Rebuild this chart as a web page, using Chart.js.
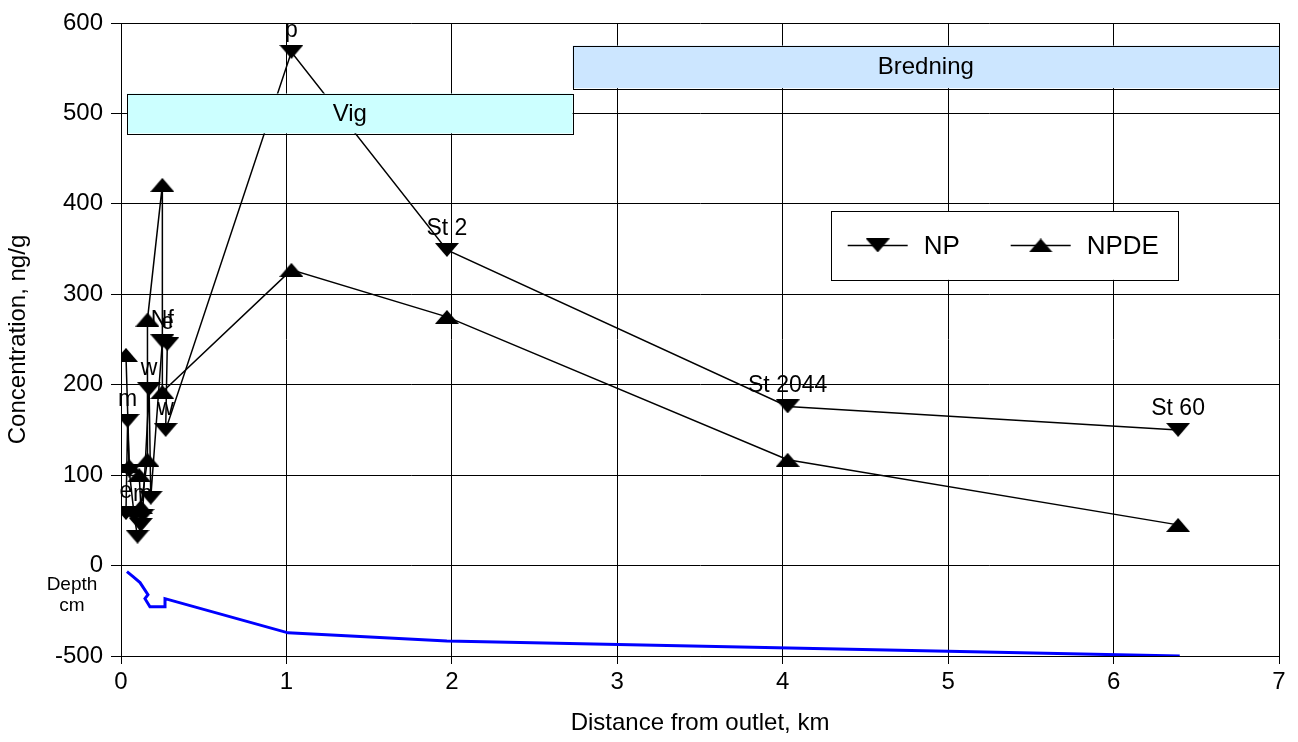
<!DOCTYPE html>
<html>
<head>
<meta charset="utf-8">
<script src="https://cdn.jsdelivr.net/npm/chart.js@4.4.1/dist/chart.umd.min.js"></script>
<style>
  html, body { margin: 0; padding: 0; background: #fff; }
</style>
</head>
<body>
<canvas id="concChart" width="1298" height="742"></canvas>
<script>
// NP (nonylphenol) per sample, distance in km, concentration ng/g
const npDist  = [0.03, 0.04, 0.05, 0.08, 0.10, 0.12, 0.13, 0.17, 0.18, 0.25, 0.28, 0.27, 1.03, 1.97, 4.03, 6.39];
const npConc  = [58, 160, 105, 55, 32, 45, 55, 195, 75, 248, 245, 150, 568, 349, 176, 150];
const npNames = ['e', 'm', '', '', '', '', 'm', 'w', '', 'Nf', 'e', 'w', 'p', 'St 2', 'St 2044', 'St 60'];

// NPDE (nonylphenol diethoxylate)
const npdeDist = [0.03, 0.05, 0.11, 0.12, 0.16, 0.16, 0.25, 0.25, 1.03, 1.97, 4.03, 6.39];
const npdeConc = [233, 110, 100, 65, 117, 272, 421, 192, 327, 275, 117, 45];

// water depth along the transect, cm
const depthDist = [0.036, 0.073, 0.115, 0.163, 0.145, 0.175, 0.266, 0.266, 1.01, 1.97, 4.04, 6.40];
const depthCm   = [-33, -61, -94, -161, -183, -228, -228, -183, -372, -417, -456, -500];

// basin extents
const basinNames  = ['Vig', 'Bredning'];
const basinFrom   = [0.036, 2.73];
const basinTo     = [2.73, 7.0];
const basinLow    = [478, 528];
const basinHigh   = [522, 575];
const basinColors = ['#ccffff', '#cce6ff'];

const xTicks = [0, 1, 2, 3, 4, 5, 6, 7];
const yTicks = [-100, 0, 100, 200, 300, 400, 500, 600];
const yTickText = ['-500', '0', '100', '200', '300', '400', '500', '600'];

const FONT = 'Arial, "Liberation Sans", sans-serif';

function triangleMarker(down) {
    const c = document.createElement('canvas');
    c.width = 24;
    c.height = 14;
    const g = c.getContext('2d');
    g.fillStyle = '#000';
    g.beginPath();
    if (down) {
        g.moveTo(0, 0); g.lineTo(24, 0); g.lineTo(12, 14);
    } else {
        g.moveTo(12, 0); g.lineTo(24, 14); g.lineTo(0, 14);
    }
    g.closePath();
    g.fill();
    return c;
}
const downTri = triangleMarker(true);
const upTri = triangleMarker(false);

const pts = (xs, ys) => xs.map((x, i) => ({ x: x, y: ys[i] }));

// station names above the NP points
const pointNames = {
    id: 'pointNames',
    afterDatasetsDraw(chart) {
        const ctx = chart.ctx;
        const meta = chart.getDatasetMeta(0);
        ctx.save();
        ctx.font = '23px ' + FONT;
        ctx.fillStyle = '#000';
        ctx.textAlign = 'center';
        ctx.textBaseline = 'middle';
        meta.data.forEach((el, i) => {
            if (npNames[i]) ctx.fillText(npNames[i], el.x, el.y - 21);
        });
        ctx.restore();
    }
};

// basin boxes, depth caption and legend
const overlays = {
    id: 'overlays',
    afterDatasetsDraw(chart) {
        const ctx = chart.ctx;
        const xs = chart.scales.x, ys = chart.scales.y;
        ctx.save();
        basinNames.forEach((name, i) => {
            const l = xs.getPixelForValue(basinFrom[i]);
            const r = xs.getPixelForValue(basinTo[i]);
            const t = ys.getPixelForValue(basinHigh[i]);
            const b = ys.getPixelForValue(basinLow[i]);
            ctx.fillStyle = basinColors[i];
            ctx.fillRect(l, t, r - l, b - t);
            ctx.strokeStyle = '#000';
            ctx.lineWidth = 1;
            ctx.strokeRect(Math.round(l) + 0.5, Math.round(t) + 0.5, Math.round(r - l), Math.round(b - t));
            ctx.fillStyle = '#000';
            ctx.font = '24px ' + FONT;
            ctx.textAlign = 'center';
            ctx.textBaseline = 'middle';
            ctx.fillText(name, (l + r) / 2, (t + b) / 2 + 1);
        });

        // depth caption on the left
        const zero = ys.getPixelForValue(0);
        ctx.font = '19px ' + FONT;
        ctx.textAlign = 'center';
        ctx.textBaseline = 'middle';
        ctx.fillText('Depth', 72, zero + 19);
        ctx.fillText('cm', 72, zero + 40);

        // legend box
        const lx = xs.getPixelForValue(4.29), rx = xs.getPixelForValue(6.39);
        const ty = ys.getPixelForValue(392), by = ys.getPixelForValue(316);
        ctx.fillStyle = '#fff';
        ctx.fillRect(lx, ty, rx - lx, by - ty);
        ctx.strokeStyle = '#000';
        ctx.lineWidth = 1;
        ctx.strokeRect(Math.round(lx) + 0.5, Math.round(ty) + 0.5, Math.round(rx - lx), Math.round(by - ty));
        const cy = (ty + by) / 2;
        const items = [['NP', downTri, lx + 17], ['NPDE', upTri, lx + 180]];
        items.forEach(([text, marker, sx]) => {
            ctx.beginPath();
            ctx.moveTo(sx, cy);
            ctx.lineTo(sx + 60, cy);
            ctx.strokeStyle = '#000';
            ctx.lineWidth = 1.5;
            ctx.stroke();
            ctx.drawImage(marker, sx + 30 - marker.width / 2, cy - marker.height / 2);
            ctx.fillStyle = '#000';
            ctx.font = '26px ' + FONT;
            ctx.textAlign = 'left';
            ctx.fillText(text, sx + 76, cy + 1);
        });
        ctx.restore();
    }
};

new Chart(document.getElementById('concChart'), {
    type: 'scatter',
    data: {
        datasets: [{
            label: 'NP',
            data: pts(npDist, npConc),
            showLine: true,
            borderColor: '#000',
            borderWidth: 1.5,
            pointStyle: downTri,
            pointRadius: 8,
            yAxisID: 'y'
        }, {
            label: 'NPDE',
            data: pts(npdeDist, npdeConc),
            showLine: true,
            borderColor: '#000',
            borderWidth: 1.5,
            pointStyle: upTri,
            pointRadius: 8,
            yAxisID: 'y'
        }, {
            label: 'Depth',
            data: pts(depthDist, depthCm),
            showLine: true,
            borderColor: '#0000ff',
            borderWidth: 3,
            pointRadius: 0,
            yAxisID: 'yDepth'
        }]
    },
    options: {
        responsive: false,
        animation: false,
        devicePixelRatio: 1,
        layout: { padding: { top: 23, right: 19, left: 0, bottom: 0 } },
        plugins: {
            legend: { display: false },
            tooltip: { enabled: false }
        },
        scales: {
            x: {
                type: 'linear',
                min: 0,
                max: 7,
                afterFit: s => { s.height = 86; },
                afterBuildTicks: s => { s.ticks = xTicks.map(v => ({ value: v })); },
                ticks: { color: '#000', font: { size: 24, family: FONT }, padding: 4 },
                grid: { color: '#000', lineWidth: 1, tickLength: 8 },
                border: { color: '#000', width: 1 },
                title: {
                    display: true,
                    text: 'Distance from outlet, km',
                    color: '#000',
                    font: { size: 24, family: FONT },
                    padding: { top: 0, bottom: 4 }
                }
            },
            y: {
                min: -100,
                max: 600,
                afterFit: s => { s.width = 121; },
                afterBuildTicks: s => { s.ticks = yTicks.map(v => ({ value: v })); },
                ticks: {
                    color: '#000',
                    font: { size: 24, family: FONT },
                    padding: 8,
                    callback: v => yTickText[yTicks.indexOf(v)]
                },
                grid: { color: '#000', lineWidth: 1, tickLength: 10 },
                border: { color: '#000', width: 1 },
                title: {
                    display: true,
                    text: 'Concentration, ng/g',
                    color: '#000',
                    font: { size: 24, family: FONT },
                    padding: { top: 4, bottom: 0 }
                }
            },
            yDepth: {
                display: false,
                min: -500,
                max: 3000
            }
        }
    },
    plugins: [pointNames, overlays]
});
</script>
</body>
</html>
